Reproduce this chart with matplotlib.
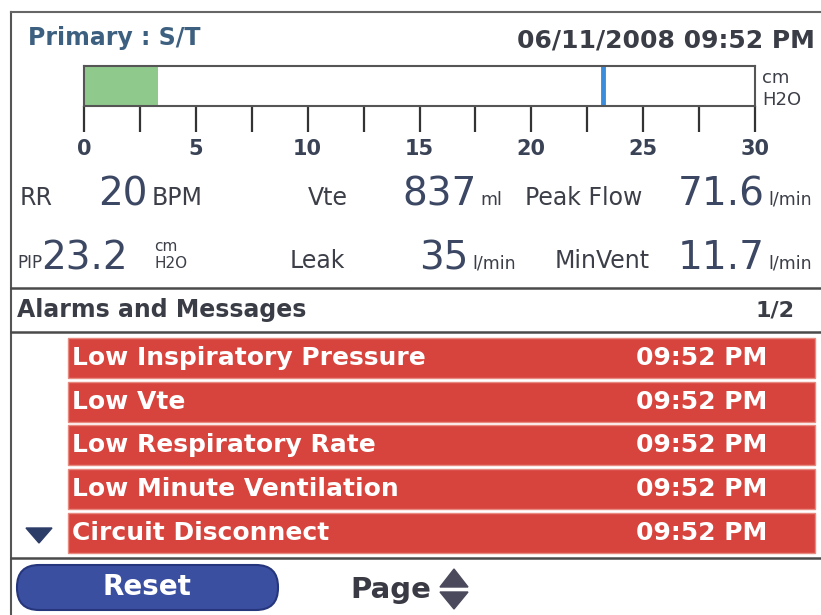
import matplotlib
matplotlib.use("Agg")
import matplotlib.pyplot as plt
from matplotlib.patches import Rectangle, FancyBboxPatch, Polygon

# ---- data ----
mode_title = "Primary : S/T"
date_str = "06/11/2008 09:52 PM"
pressure_ticks = [0, 5, 10, 15, 20, 25, 30]
pressure_fill = 3.3      # green bar (cm H2O)
pip_marker = 23.2        # blue marker

row1_labels = ["RR", "Vte", "Peak Flow"]
row1_values = ["20", "837", "71.6"]
row1_units = ["BPM", "ml", "l/min"]
row2_labels = ["PIP", "Leak", "MinVent"]
row2_values = ["23.2", "35", "11.7"]
row2_units = ["cm\nH2O", "l/min", "l/min"]

alarm_page = "1/2"
alarm_msgs = ["Low Inspiratory Pressure", "Low Vte", "Low Respiratory Rate",
              "Low Minute Ventilation", "Circuit Disconnect"]
alarm_times = ["09:52 PM"] * 5

W, H = 821, 615
LABEL_C = "#3c3f48"
NUM_C = "#3b4763"
DARK = "#3a3d46"

fig = plt.figure(figsize=(W / 100, H / 100), dpi=100)
ax = fig.add_axes([0, 0, 1, 1])
ax.set_xlim(0, W)
ax.set_ylim(H, 0)
ax.axis("off")

# frame and separators
ax.plot([11, 11], [12, H], color="#555", lw=1.5)
ax.plot([11, W], [12, 12], color="#666", lw=1.5)
for y in [288, 332, 558]:
    ax.plot([11, W], [y, y], color="#4a4a4a", lw=1.8)

# header
ax.text(28, 38, mode_title, fontsize=17, fontweight="bold", color="#3e6080", va="center")
ax.text(815, 41, date_str, fontsize=18, fontweight="bold", color=DARK, va="center", ha="right")

# pressure bar
bx = fig.add_axes([84 / W, 1 - 106 / H, (755 - 84) / W, 40 / H])
bx.set_xlim(0, 30)
bx.set_ylim(0, 1)
bx.barh(0.5, pressure_fill, height=1, left=0, color="#8fca8c")
bx.axvline(pip_marker, color="#3b8ddb", lw=3.5)
bx.set_yticks([])
bx.set_xticks(pressure_ticks)
bx.set_xticks([t + 2.5 for t in pressure_ticks[:-1]], minor=True)
bx.tick_params(axis="x", which="both", length=19, width=1.6, color="#333", pad=5,
               labelsize=15, labelcolor="#3a4356")
for lab in bx.get_xticklabels():
    lab.set_fontweight("bold")
for s in bx.spines.values():
    s.set_color("#555")
    s.set_linewidth(1.5)
ax.text(762, 78, "cm", fontsize=13, color=LABEL_C, va="center")
ax.text(762, 100, "H2O", fontsize=13, color=LABEL_C, va="center")

# readings: label x, value x (and alignment), unit x
row1_x = [(20, 148, "right", 152), (308, 477, "right", 480), (525, 765, "right", 768)]
row2_x = [(17, 41, "left", 154), (290, 468, "right", 472), (555, 765, "right", 768)]
for labels, values, units, xs, base, lsizes in [
        (row1_labels, row1_values, row1_units, row1_x, 205, [17, 17, 17]),
        (row2_labels, row2_values, row2_units, row2_x, 268, [12, 17, 17])]:
    for lab, val, unit, (lx, vx, va_h, ux), ls in zip(labels, values, units, xs, lsizes):
        ax.text(lx, base, lab, fontsize=ls, color=LABEL_C, va="baseline")
        ax.text(vx, base + 1, val, fontsize=28, color=NUM_C, va="baseline", ha=va_h)
        if "\n" in unit:
            top, bot = unit.split("\n")
            ax.text(ux, base - 17, top, fontsize=11, color=LABEL_C, va="baseline")
            ax.text(ux, base, bot, fontsize=11, color=LABEL_C, va="baseline")
        else:
            us = 17 if unit == "BPM" else 12.5
            ax.text(ux, base, unit, fontsize=us, color=LABEL_C, va="baseline")

# alarms header
ax.text(17, 310, "Alarms and Messages", fontsize=17, fontweight="bold", color=DARK, va="center")
ax.text(795, 311, alarm_page, fontsize=16, fontweight="bold", color=DARK, va="center", ha="right")

# alarm rows
row_top, pitch, row_h = 338, 43.7, 40
for i, (msg, t) in enumerate(zip(alarm_msgs, alarm_times)):
    y0 = row_top + i * pitch
    ax.add_patch(Rectangle((68, y0), 815 - 68, row_h, facecolor="#d6443d",
                           edgecolor="#e98a80", lw=1))
    ax.text(72, y0 + row_h / 2, msg, fontsize=18, fontweight="bold", color="white", va="center")
    ax.text(767, y0 + row_h / 2, t, fontsize=18, fontweight="bold", color="white",
            va="center", ha="right")
ax.add_patch(Polygon([(26, 528), (52, 528), (39, 543)], closed=True, color="#2c3d68"))

# bottom buttons
ax.add_patch(FancyBboxPatch((17, 565), 261, 45, boxstyle="round,pad=0,rounding_size=22",
                            facecolor="#3b4fa0", edgecolor="#26367c", lw=1.5))
ax.text(147, 587, "Reset", fontsize=20, fontweight="bold", color="white", va="center", ha="center")
ax.text(350, 590, "Page", fontsize=21, fontweight="bold", color="#3a3a44", va="center")
ax.add_patch(Polygon([(440, 587), (468, 587), (454, 569)], closed=True, color="#4a4a5c"))
ax.add_patch(Polygon([(440, 592), (468, 592), (454, 609)], closed=True, color="#4a4a5c"))

fig.savefig("out.png", dpi=100)
